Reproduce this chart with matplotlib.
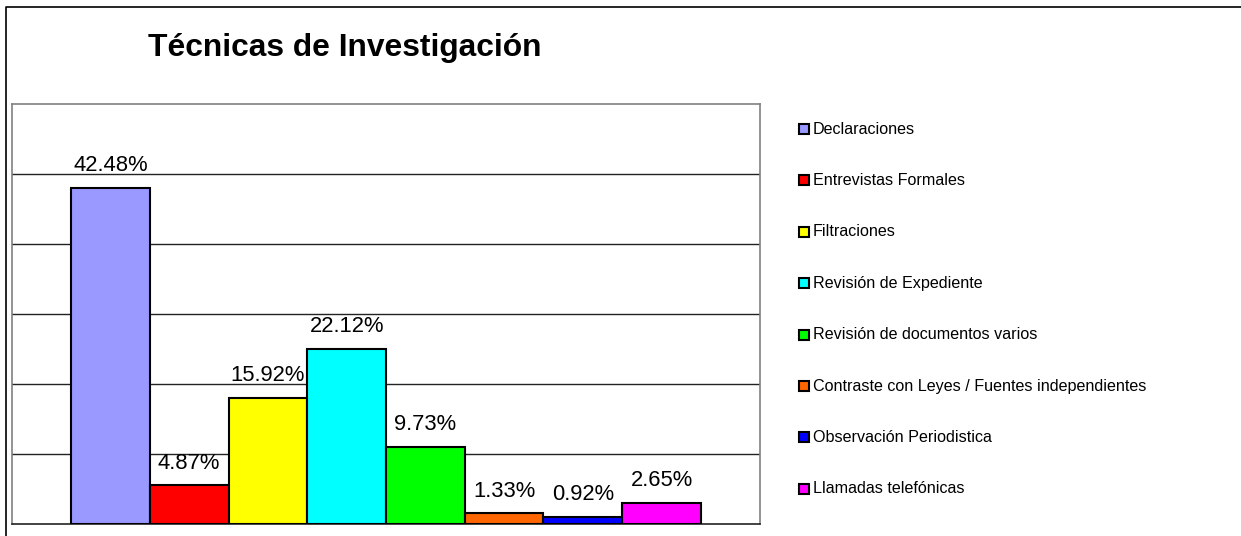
import matplotlib
matplotlib.use('Agg')
import matplotlib.pyplot as plt
from matplotlib.patches import Rectangle
from matplotlib.lines import Line2D

plt.rcParams['font.family'] = ['Liberation Sans', 'DejaVu Sans']

categories = ['Declaraciones', 'Entrevistas Formales', 'Filtraciones',
              'Revisión de Expediente', 'Revisión de documentos varios',
              'Contraste con Leyes / Fuentes independientes',
              'Observación Periodistica', 'Llamadas telefónicas']
values = [42.48, 4.87, 15.92, 22.12, 9.73, 1.33, 0.92, 2.65]
colors = ['#9999FF', '#FF0000', '#FFFF00', '#00FFFF', '#00FF00',
          '#FF6600', '#0000FF', '#FF00FF']

W, H = 1241, 536
fig = plt.figure(figsize=(W / 100, H / 100), dpi=100)

# plot area in pixel coords
left, right, top, bottom = 12, 760, 104, 524
ax = fig.add_axes([left / W, 1 - bottom / H, (right - left) / W, (bottom - top) / H])

ymax = 53.1
step = ymax / 6
x = range(len(values))
bars = ax.bar(x, values, width=1.0, color=colors, edgecolor='black',
              linewidth=1.5, zorder=3)
for i, v in enumerate(values):
    ax.annotate(f'{v:.2f}%', (i, v), xytext=(0, 12), textcoords='offset points',
                ha='center', va='baseline', fontsize=15.8)

ax.set_xlim(-1.25, 8.25)
ax.set_ylim(0, ymax)
for k in range(1, 6):
    ax.axhline(k * step, color='#222222', linewidth=1, zorder=1)
ax.set_xticks([])
ax.set_yticks([])
for s in ['left', 'top', 'right']:
    ax.spines[s].set_color('#808080')
    ax.spines[s].set_linewidth(1.2)
ax.spines['bottom'].set_color('#222222')
ax.spines['bottom'].set_linewidth(1.2)

fig.text(148 / W, 1 - 48 / H, 'Técnicas de Investigación', fontsize=22.9,
         fontweight='bold', ha='left', va='center')

# legend
for i, (lab, c) in enumerate(zip(categories, colors)):
    yc = 129 + i * 51.4
    fig.patches.append(Rectangle((799 / W, 1 - (yc + 5) / H), 10 / W, 10 / H,
                                 facecolor=c, edgecolor='black', linewidth=1.5,
                                 transform=fig.transFigure))
    fig.text(813 / W, 1 - yc / H, lab, fontsize=11.6, ha='left', va='center')

# figure border (top and left)
fig.add_artist(Line2D([6 / W, 6 / W, 1], [0, 1 - 6.5 / H, 1 - 6.5 / H],
                      color='black', linewidth=1.2, transform=fig.transFigure))

fig.savefig('out.png', dpi=100)
